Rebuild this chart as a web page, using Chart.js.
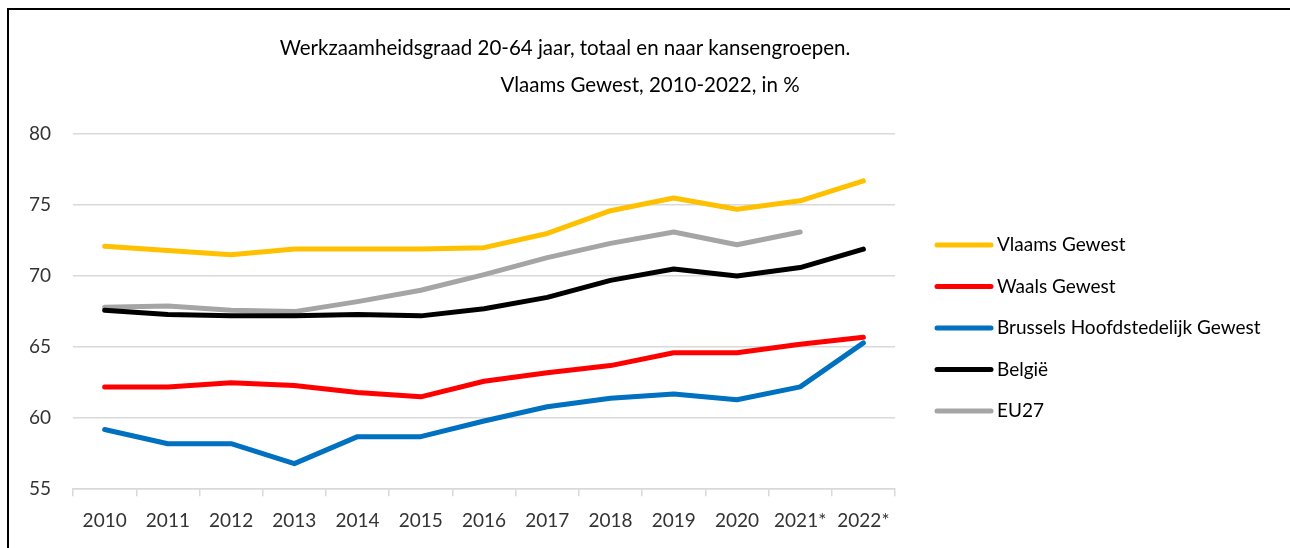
<!DOCTYPE html>
<html>
<head>
<meta charset="utf-8">
<script src="https://cdn.jsdelivr.net/npm/chart.js@4.4.1/dist/chart.umd.min.js"></script>
<style>
  html, body { margin: 0; padding: 0; background: #fff; }
  #wrap { position: relative; width: 1290px; height: 548px; }
  #frame { position: absolute; left: 7px; top: 8px; right: 0; bottom: 0;
           border-left: 2px solid #000; border-top: 2px solid #000; pointer-events: none; }
</style>
</head>
<body>
<div id="wrap">
  <canvas id="chart" width="1290" height="548"></canvas>
  <div id="frame"></div>
</div>
<script>
// Jaren (x-as)
const years = ['2010', '2011', '2012', '2013', '2014', '2015', '2016', '2017', '2018', '2019', '2020', '2021*', '2022*'];

// Werkzaamheidsgraad 20-64 jaar, in %
const vlaamsGewest = [72.1, 71.8, 71.5, 71.9, 71.9, 71.9, 72.0, 73.0, 74.6, 75.5, 74.7, 75.3, 76.7];
const waalsGewest = [62.2, 62.2, 62.5, 62.3, 61.8, 61.5, 62.6, 63.2, 63.7, 64.6, 64.6, 65.2, 65.7];
const brusselsGewest = [59.2, 58.2, 58.2, 56.8, 58.7, 58.7, 59.8, 60.8, 61.4, 61.7, 61.3, 62.2, 65.3];
const belgie = [67.6, 67.3, 67.2, 67.2, 67.3, 67.2, 67.7, 68.5, 69.7, 70.5, 70.0, 70.6, 71.9];
const eu27 = [67.8, 67.9, 67.6, 67.5, 68.2, 69.0, 70.1, 71.3, 72.3, 73.1, 72.2, 73.1, null];

const FONT = 'Lato, "Open Sans", sans-serif';

function serie(label, data, color) {
    return {
        label: label,
        data: data,
        borderColor: color,
        backgroundColor: color,
        borderWidth: 5,
        pointRadius: 0,
        pointHoverRadius: 0,
        tension: 0,
        borderCapStyle: 'round',
        borderJoinStyle: 'round',
        spanGaps: false
    };
}

// Titel op twee regels, zoals in het origineel (tweede regel iets naar rechts)
const titlePlugin = {
    id: 'titel',
    afterDraw(chart) {
        const ctx = chart.ctx;
        ctx.save();
        ctx.fillStyle = '#000';
        ctx.font = '20.5px ' + FONT;
        ctx.textAlign = 'center';
        ctx.textBaseline = 'middle';
        ctx.fillText('Werkzaamheidsgraad 20-64 jaar, totaal en naar kansengroepen.', 565, 48);
        ctx.fillText('Vlaams Gewest, 2010-2022, in %', 650, 85);
        ctx.restore();
    }
};

// Legende rechts naast de grafiek, gebouwd uit de datasets
const legendPlugin = {
    id: 'legende',
    afterDraw(chart) {
        const ctx = chart.ctx;
        const x0 = chart.chartArea.right + 42;
        let y = 245;
        ctx.save();
        ctx.font = '19px ' + FONT;
        ctx.textBaseline = 'middle';
        ctx.lineCap = 'round';
        ctx.lineWidth = 5;
        chart.data.datasets.forEach(ds => {
            ctx.strokeStyle = ds.borderColor;
            ctx.beginPath();
            ctx.moveTo(x0, y);
            ctx.lineTo(x0 + 54, y);
            ctx.stroke();
            ctx.fillStyle = '#000';
            ctx.fillText(ds.label, x0 + 60, y);
            y += 41.5;
        });
        ctx.restore();
    }
};

const ctx = document.getElementById('chart').getContext('2d');
new Chart(ctx, {
    type: 'line',
    data: {
        labels: years,
        datasets: [
            serie('Vlaams Gewest', vlaamsGewest, '#FFC000'),
            serie('Waals Gewest', waalsGewest, '#FF0000'),
            serie('Brussels Hoofdstedelijk Gewest', brusselsGewest, '#0070C0'),
            serie('België', belgie, '#000000'),
            serie('EU27', eu27, '#A5A5A5')
        ]
    },
    options: {
        responsive: false,
        animation: false,
        layout: {
            padding: { top: 134, left: 7, right: 395, bottom: 3 }
        },
        plugins: {
            title: { display: false },
            tooltip: { enabled: false },
            legend: { display: false }
        },
        scales: {
            x: {
                offset: true,
                grid: {
                    offset: true,
                    drawOnChartArea: false,
                    drawTicks: true,
                    tickLength: 7,
                    color: '#d9d9d9',
                    lineWidth: 1.5
                },
                border: { color: '#d9d9d9', width: 1.5 },
                ticks: {
                    color: '#333333',
                    padding: 13,
                    maxRotation: 0,
                    autoSkip: false,
                    font: { family: FONT, size: 19 }
                }
            },
            y: {
                min: 55,
                max: 80,
                ticks: {
                    stepSize: 5,
                    color: '#333333',
                    padding: 22,
                    font: { family: FONT, size: 19 }
                },
                grid: {
                    color: '#d9d9d9',
                    lineWidth: 1.5,
                    drawTicks: false
                },
                border: { display: false }
            }
        }
    },
    plugins: [titlePlugin, legendPlugin]
});
</script>
</body>
</html>
